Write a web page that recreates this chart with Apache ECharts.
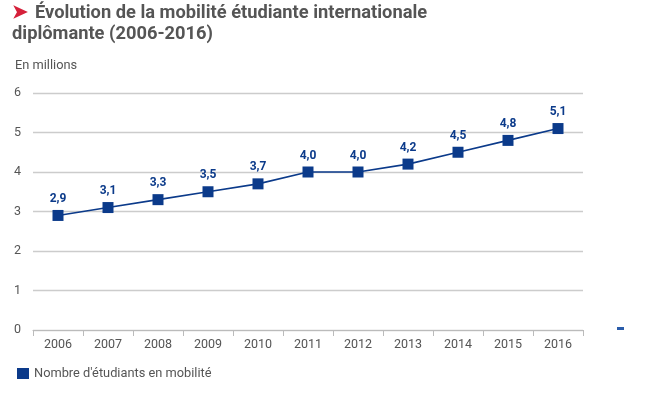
<!DOCTYPE html>
<html><head><meta charset="utf-8">
<script src="https://cdn.jsdelivr.net/npm/echarts@6/dist/echarts.min.js"></script>
<style>html,body{margin:0;padding:0;background:#fff}#c{width:650px;height:401px}</style>
</head><body><div id="c"></div>
<script>
var years = ['2006','2007','2008','2009','2010','2011','2012','2013','2014','2015','2016'];
var students = [2.9, 3.1, 3.3, 3.5, 3.7, 4.0, 4.0, 4.2, 4.5, 4.8, 5.1];
var seriesName = "Nombre d'étudiants en mobilité";
var yTicks = [0, 1, 2, 3, 4, 5, 6];
var blue = '#0b3a8a';
var chart = echarts.init(document.getElementById('c'), null, {renderer: 'canvas'});
chart.setOption({
  animation: false,
  textStyle: {fontFamily: 'Roboto'},
  title: [{
    left: 12, top: 3, padding: 0,
    text: '{a|➤}{s| }Évolution de la mobilité étudiante internationale\ndiplômante (2006-2016)',
    textStyle: {fontSize: 18.3, fontWeight: 'bold', color: '#555', lineHeight: 21, fontFamily: 'Roboto',
      rich: {
        a: {color: '#d5203a', fontSize: 19, fontWeight: 'bold', lineHeight: 21},
        s: {width: 7, fontSize: 18, lineHeight: 21}
      }}
  }, {
    left: 15, top: 59, padding: 0, text: 'En millions',
    textStyle: {fontSize: 12.8, fontWeight: 'normal', color: '#555', fontFamily: 'Roboto'}
  }],
  legend: {
    left: 17, top: 367, padding: 0, itemWidth: 12, itemHeight: 11, itemGap: 7, icon: 'rect',
    textStyle: {fontSize: 12.8, color: '#555', fontFamily: 'Roboto'},
    data: [{name: seriesName, icon: 'rect'}]
  },
  grid: {left: 33, right: 67, top: 93, bottom: 71, containLabel: false},
  xAxis: {
    type: 'category', data: years, boundaryGap: true,
    axisLine: {lineStyle: {color: '#bbb', width: 1}},
    axisTick: {show: true, length: 6, lineStyle: {color: '#bbb'}},
    axisLabel: {fontSize: 12.5, color: '#555', margin: 8}
  },
  yAxis: {
    type: 'value', min: yTicks[0], max: yTicks[yTicks.length - 1], interval: 1,
    axisLine: {show: false}, axisTick: {show: false},
    axisLabel: {fontSize: 12.5, color: '#555', margin: 12},
    splitLine: {lineStyle: {color: '#ccc', width: 1.3}}
  },
  series: [{
    name: seriesName, type: 'line', data: students,
    symbol: 'rect', symbolSize: 11,
    lineStyle: {color: blue, width: 1.6},
    itemStyle: {color: blue},
    label: {show: true, position: 'top', distance: 5, fontSize: 12, fontWeight: 'bold', color: blue,
      formatter: function (p) { return p.value.toFixed(1).replace('.', ','); }}
  }],
  graphic: [{type: 'rect', shape: {x: 617, y: 327, width: 7, height: 3}, style: {fill: '#2a5caa'}}]
});
</script></body></html>
